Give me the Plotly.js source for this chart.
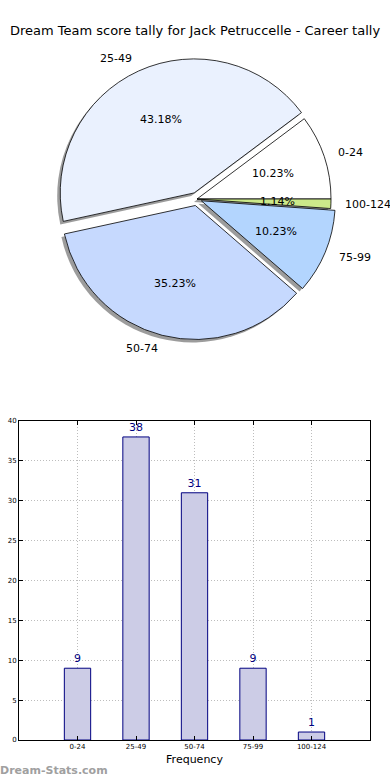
<!DOCTYPE html>
<html><head><meta charset="utf-8">
<script src="https://cdn.plot.ly/plotly-3.0.1.min.js"></script>
<style>html,body{margin:0;padding:0;background:#fff}#chart{width:390px;height:780px}</style>
</head><body><div id="chart"></div>
<script>
const categories = ["0-24", "25-49", "50-74", "75-99", "100-124"];
const counts = [9, 38, 31, 9, 1];
const pieColors = ["#ffffff", "#eaf1fe", "#c6d9fe", "#b3d5fe", "#cce98a"];
const explode = [0, 0.05, 0.05, 0.035, 0];

const W = 390, H = 780;
const cx = 197, cy = 199, R = 134;
const total = counts.reduce((a, b) => a + b, 0);
const maxPull = Math.max(...explode);
const half = R * (1 + maxPull);     // pie domain half-size in px
const ext2 = 1.4;                   // text axes extent in radius units
const half2 = R * ext2;
// Plotly counterclockwise pies put the first slice's far edge at the rotation angle;
// shift so the first slice starts at 3 o'clock like matplotlib.
const rot = 90 - 360 * counts[0] / total;
function dom(h, dx, dy) {
  return {
    x: [(cx - h + dx) / W, (cx + h + dx) / W],
    y: [(H - (cy + h + dy)) / H, (H - (cy - h + dy)) / H]
  };
}
const font = "DejaVu Sans, Liberation Sans, sans-serif";
const base = {
  type: "pie", labels: categories, values: counts, sort: false,
  direction: "counterclockwise", rotation: rot, pull: explode,
  hoverinfo: "skip", showlegend: false, textinfo: "none"
};
const shadow = Object.assign({}, base, {
  domain: dom(half, -3, 3),
  marker: {colors: categories.map(() => "rgba(90,90,90,0.6)"), line: {width: 0}}
});
const mainPie = Object.assign({}, base, {
  domain: dom(half, 0, 0),
  marker: {colors: pieColors, line: {color: "#000", width: 0.8}}
});

// label / percentage positions (matplotlib style: 0.6 and 1.1 of the radius), in radius units
const annotations = [];
let cum = 0;
counts.forEach((v, i) => {
  const th = (cum + v / 2) / total * 2 * Math.PI;
  cum += v;
  const c = Math.cos(th), s = Math.sin(th), p = explode[i];
  annotations.push({
    xref: "x2", yref: "y2", x: (0.6 + p) * c, y: (0.6 + p) * s,
    text: (v / total * 100).toFixed(2) + "%", showarrow: false,
    xanchor: "center", yanchor: "middle", borderpad: 0,
    font: {family: font, size: 11, color: "#000"}
  });
  annotations.push({
    xref: "x2", yref: "y2", x: (1.1 + p) * c, y: (1.1 + p) * s,
    text: categories[i], showarrow: false,
    xanchor: c >= 0 ? "left" : "right", yanchor: "middle", borderpad: 0,
    font: {family: font, size: 11, color: "#000"}
  });
});
annotations.push({text: "<b>Dream-Stats.com</b>", xref: "paper", yref: "paper",
  x: -0.005, y: 10 / H, xanchor: "left", yanchor: "middle", showarrow: false,
  font: {family: font, size: 11, color: "#a0a0a0"}});

const bars = {
  type: "bar", x: categories, y: counts, width: 0.45,
  marker: {color: "#ccccE6", line: {color: "#000080", width: 1}},
  text: counts.map(String), textposition: "outside", cliponaxis: false,
  textfont: {family: font, size: 11, color: "#000080"},
  xaxis: "x", yaxis: "y", showlegend: false, hoverinfo: "skip"
};
const td = dom(half2, 0, 0);
const layout = {
  width: W, height: H, margin: {l: 0, r: 0, t: 0, b: 0},
  paper_bgcolor: "#fff", plot_bgcolor: "rgba(0,0,0,0)",
  font: {family: font, color: "#000"},
  title: {text: "Dream Team score tally for Jack Petruccelle - Career tally",
          font: {family: font, size: 13, color: "#000"},
          x: 0.5, xanchor: "center", y: 1 - 30 / H, yanchor: "middle"},
  xaxis: {domain: [19 / W, 370 / W], range: [-1, 5], type: "category",
          showline: true, linecolor: "#000", linewidth: 1, mirror: "ticks",
          ticks: "inside", ticklen: 4, tickcolor: "#000",
          showgrid: true, gridcolor: "#bdbdbd", griddash: "1px,2px", gridwidth: 1,
          tickfont: {family: font, size: 7, color: "#000"},
          title: {text: "Frequency", font: {family: font, size: 11, color: "#000"}, standoff: 4},
          zeroline: false, fixedrange: true},
  yaxis: {domain: [40 / H, 359 / H], range: [0, 40], dtick: 5,
          showline: true, linecolor: "#000", linewidth: 1, mirror: "ticks",
          ticks: "inside", ticklen: 4, tickcolor: "#000",
          showgrid: true, gridcolor: "#bdbdbd", griddash: "1px,2px", gridwidth: 1,
          tickfont: {family: font, size: 7, color: "#000"},
          zeroline: false, fixedrange: true},
  xaxis2: {domain: td.x, range: [-ext2, ext2], anchor: "y2", visible: false, fixedrange: true},
  yaxis2: {domain: td.y, range: [-ext2, ext2], anchor: "x2", visible: false, fixedrange: true},
  annotations: annotations
};
Plotly.newPlot("chart", [shadow, mainPie, bars], layout, {staticPlot: true});
</script></body></html>
